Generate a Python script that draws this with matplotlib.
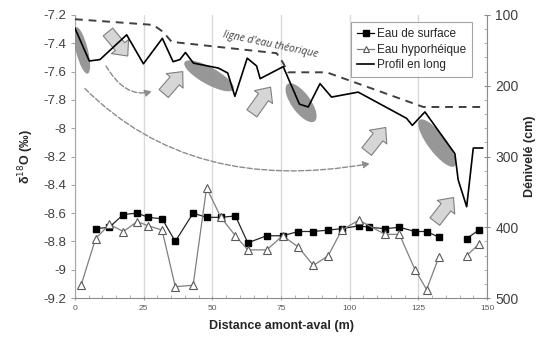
import numpy as np
import matplotlib
matplotlib.use('Agg')
from matplotlib import pyplot as plt
from matplotlib.patches import Ellipse
from matplotlib.transforms import ScaledTranslation
from matplotlib.ticker import MultipleLocator, FuncFormatter
from matplotlib.lines import Line2D

plt.rcParams['font.family'] = ['Liberation Sans', 'DejaVu Sans']

# données
surf_x = [7.5, 12.5, 17.6, 22.6, 26.7, 31.7, 36.5, 43, 47.9, 53.1, 58.4, 62.9, 69.8, 75.6,
          81.3, 86.8, 92.2, 97.1, 103.3, 107, 112.9, 118.1, 123.8, 128, 132.5, 137, 142.6, 147]
surf_y = [-8.71, -8.70, -8.61, -8.60, -8.63, -8.64, -8.80, -8.60, -8.63, -8.63, -8.62, -8.81,
          -8.76, -8.76, -8.73, -8.73, -8.72, -8.71, -8.69, -8.70, -8.71, -8.70, -8.73, -8.73,
          -8.77, np.nan, -8.78, -8.72]

hyp_x = [2.2, 7.5, 12.5, 17.6, 22.6, 26.7, 31.7, 36.5, 43, 47.9, 53.1, 58.4, 62.9, 69.8, 75.6,
         81.3, 86.8, 92.2, 97.1, 103.3, 112.9, 118.1, 123.8, 128, 132.5, 137, 142.6, 147]
hyp_y = [-9.11, -8.78, -8.68, -8.73, -8.66, -8.69, -8.72, -9.12, -9.11, -8.42, -8.63, -8.76,
         -8.86, -8.86, -8.76, -8.84, -8.97, -8.90, -8.72, -8.65, -8.75, -8.75, -9.00, -9.14,
         -8.91, np.nan, -8.90, -8.82]

prof_x = [0, 5.2, 9.1, 18.8, 24.9, 31.8, 35.7, 38.2, 40.2, 43.1, 52.2, 55.6, 58.2, 62.7, 66.1,
          67.4, 75.8, 81.7, 84.9, 89.2, 93.4, 103.1, 120.7, 122.8, 127.4, 138.3, 139.5, 142.6,
          145, 148.4]
prof_y = [119, 165, 163, 128, 169, 133, 166, 163, 153, 168, 175, 182, 215, 161, 172, 190, 173,
          226, 230, 197, 216, 209, 246, 256, 237, 296, 333, 371, 288, 288]

theo_x = [0, 28.5, 32.1, 35.2, 73.4, 75.8, 77.5, 91.6, 126.8, 148]
theo_y = [106, 114, 124, 138, 154, 168, 181, 181, 230, 230]

# zones grisées (x, dénivelé, grand axe, petit axe en pouces, angle)
ellipses = [(2.5, 150, 0.48, 0.12, 104),
            (48.8, 186, 0.56, 0.17, -29),
            (82.3, 224, 0.46, 0.19, -54),
            (131.8, 281, 0.58, 0.18, -53)]
# grosses flèches (queue -> tête)
fleches = [((12.0, 124), (19.2, 158)),
           ((32.3, 211), (39.2, 180)),
           ((64.4, 239), (71.2, 202)),
           ((106.2, 293), (113.1, 259)),
           ((131.0, 392), (137.8, 358))]

fig = plt.figure(figsize=(5.37, 3.37), dpi=100)
ax = fig.add_axes([0.1397, 0.1157, 0.7672, 0.8398])
ax2 = ax.twinx()

txt = '#404040'
ax.plot(surf_x, surf_y, color='#262626', lw=0.9, marker='s', ms=5, mfc='black',
        mec='black', zorder=3)
ax.plot(hyp_x, hyp_y, color='#7f7f7f', lw=0.9, marker='^', ms=5.5, mfc='white',
        mec='#595959', mew=0.8, zorder=3)

ax.set_xlim(0, 150)
ax.set_ylim(-9.2, -7.2)
ax.xaxis.set_major_locator(MultipleLocator(25))
ax.xaxis.set_minor_locator(MultipleLocator(5))
ax.yaxis.set_major_locator(MultipleLocator(0.2))
ax.yaxis.set_major_formatter(FuncFormatter(lambda v, p: '%g' % round(v, 1)))
ax.xaxis.grid(True, color='#d9d9d9', lw=1)
ax.tick_params(axis='x', which='major', labelsize=6, labelcolor='#595959', length=3,
               color='#a6a6a6', direction='inout')
ax.tick_params(axis='x', which='minor', length=2, color='#a6a6a6', direction='in')
ax.tick_params(axis='y', labelsize=9.5, labelcolor=txt, length=3, color='#a6a6a6')
ax.set_xlabel('Distance amont-aval (m)', fontsize=9, fontweight='bold', color='#262626',
              labelpad=6)
ax.set_ylabel('δ$^{18}$O (‰)', fontsize=9, fontweight='bold', color='#262626', labelpad=5)
for s in ['top', 'right']:
    ax.spines[s].set_visible(False)
ax.spines['left'].set_color('#a6a6a6')
ax.spines['bottom'].set_color('#8c8c8c')

# axe de droite : profil en long
ax2.plot(theo_x, theo_y, color='#404040', lw=1.4, ls=(0, (4, 3)), zorder=4)
ax2.plot(prof_x, prof_y, color='black', lw=1.2, zorder=4)
ax2.set_ylim(500, 100)
ax2.yaxis.set_major_locator(MultipleLocator(100))
ax2.yaxis.set_minor_locator(MultipleLocator(20))
ax2.tick_params(axis='y', which='major', labelsize=10, labelcolor=txt, length=5,
                color='#8c8c8c', direction='inout')
ax2.tick_params(axis='y', which='minor', length=2.5, color='#a6a6a6', direction='in')
ax2.set_ylabel('Dénivelé (cm)', fontsize=9, fontweight='bold', color='#262626', labelpad=4)
for s in ['top', 'left', 'bottom']:
    ax2.spines[s].set_visible(False)
ax2.spines['right'].set_color('#8c8c8c')

for x, y, w, h, a in ellipses:
    e = Ellipse((0, 0), w, h, angle=a, fc='#8c8c8c', ec='none', alpha=0.9, zorder=2,
                transform=fig.dpi_scale_trans + ScaledTranslation(x, y, ax2.transData))
    ax2.add_patch(e)

for tail, head in fleches:
    ax2.annotate('', xy=head, xytext=tail, zorder=3,
                 arrowprops=dict(arrowstyle='simple,head_length=0.8,head_width=1.45,tail_width=0.8',
                                 mutation_scale=11, fc='#d6d6d6', ec='#7f7f7f', lw=0.8,
                                 shrinkA=0, shrinkB=0))

# flèches courbes en pointillés
ax.annotate('', xy=(28.0, -7.74), xytext=(11.3, -7.56),
            arrowprops=dict(arrowstyle='-|>,head_length=0.4,head_width=0.2', ls='--',
                            color='#8c8c8c', lw=1,
                            connectionstyle='angle3,angleA=-60,angleB=15',
                            shrinkA=0, shrinkB=0))
ax.annotate('', xy=(107.4, -8.25), xytext=(3.6, -7.72),
            arrowprops=dict(arrowstyle='-|>,head_length=0.4,head_width=0.2', ls='--',
                            color='#8c8c8c', lw=1,
                            connectionstyle='angle3,angleA=-45,angleB=10',
                            shrinkA=0, shrinkB=0))

ax2.text(71, 142, "ligne d'eau théorique", fontsize=7.5, style='italic', color='#404040',
         rotation=-12, ha='center', va='center', family=['Open Sans', 'DejaVu Sans'])

handles = [Line2D([], [], color='black', lw=0.9, marker='s', ms=4, mfc='black'),
           Line2D([], [], color='#7f7f7f', lw=0.9, marker='^', ms=4.5, mfc='white',
                  mec='#595959', mew=0.8),
           Line2D([], [], color='black', lw=1.2)]
leg = ax2.legend(handles, ['Eau de surface', 'Eau hyporhéique', 'Profil en long'],
                 loc='upper left', bbox_to_anchor=(0.655, 0.995), fontsize=8.5,
                 frameon=True, fancybox=False, handlelength=1.5, handletextpad=0.25,
                 borderpad=0.5, labelspacing=0.3, labelcolor='#262626')
leg.get_frame().set_edgecolor('#8c8c8c')
leg.get_frame().set_linewidth(0.8)
leg.set_zorder(10)

fig.savefig('out.png', dpi=100)
